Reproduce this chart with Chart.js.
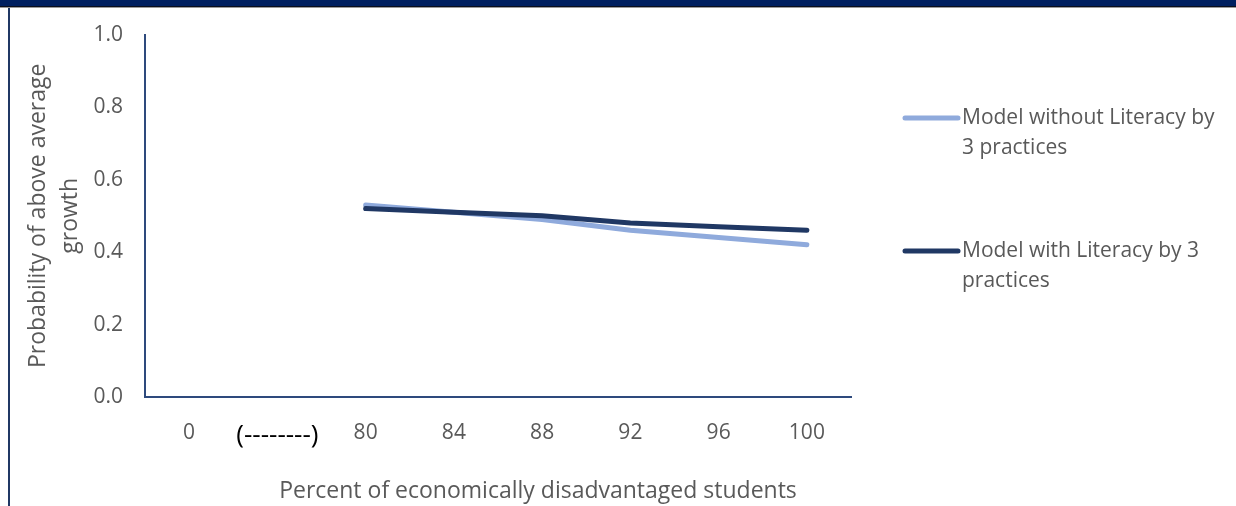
<!DOCTYPE html>
<html>
<head>
<meta charset="utf-8">
<script src="https://cdn.jsdelivr.net/npm/chart.js@4.4.1/dist/chart.umd.min.js"></script>
<style>
  html, body { margin: 0; padding: 0; background: #ffffff; }
  #wrap { position: relative; width: 1236px; height: 506px; }
</style>
</head>
<body>
<div id="wrap"><canvas id="chart" width="1236" height="506"></canvas></div>
<script>
// Categories along the x axis (the break marker sits between 0 and 80)
const categories = ['0', '(--------)', '80', '84', '88', '92', '96', '100'];

// Predicted probability of above average growth
const withoutLiteracy = [null, null, 0.53, 0.51, 0.49, 0.46, 0.44, 0.42];
const withLiteracy    = [null, null, 0.52, 0.51, 0.50, 0.48, 0.47, 0.46];

const seriesLabels = [
  'Model without Literacy by 3 practices',
  'Model with Literacy by 3 practices'
];
const seriesColors = ['#8FAADC', '#203864'];

const yTitleLines = ['Probability of above average', 'growth'];
const xTitle = 'Percent of economically disadvantaged students';

const FONT = '"Open Sans", "Noto Sans", sans-serif';
const GREY = '#595959';
const AXIS = '#2E4A7D';

// Page frame: header band and left rule
const framePlugin = {
  id: 'frame',
  beforeDraw(chart) {
    const ctx = chart.ctx;
    ctx.save();
    ctx.fillStyle = '#ffffff';
    ctx.fillRect(0, 0, chart.width, chart.height);
    ctx.fillStyle = '#002060';
    ctx.fillRect(0, 0, chart.width, 6);
    ctx.fillStyle = '#0a0f1e';
    ctx.fillRect(0, 6, chart.width, 1);
    ctx.fillStyle = '#9a9a9a';
    ctx.fillRect(0, 7, chart.width, 1);
    ctx.fillStyle = '#203864';
    ctx.fillRect(8, 8, 2, chart.height - 8);
    ctx.restore();
  }
};

// Legend on the right with wrapped labels, and the x axis title
const sidePlugin = {
  id: 'side',
  afterDraw(chart) {
    const ctx = chart.ctx;
    ctx.save();
    ctx.font = '21px ' + FONT;
    ctx.fillStyle = GREY;
    ctx.textBaseline = 'middle';
    const tops = [118, 251];
    chart.data.datasets.forEach((ds, i) => {
      const y = tops[i];
      ctx.strokeStyle = ds.borderColor;
      ctx.lineWidth = 5;
      ctx.lineCap = 'round';
      ctx.beginPath();
      ctx.moveTo(905, y);
      ctx.lineTo(958, y);
      ctx.stroke();
      // wrap the label into lines
      const words = ds.label.split(' ');
      const lines = [];
      let cur = '';
      words.forEach(w => {
        const t = cur ? cur + ' ' + w : w;
        if (ctx.measureText(t).width > 260 && cur) { lines.push(cur); cur = w; }
        else cur = t;
      });
      if (cur) lines.push(cur);
      ctx.textAlign = 'left';
      lines.forEach((ln, k) => ctx.fillText(ln, 962, y + k * 30));
    });
    ctx.font = '23px ' + FONT;
    ctx.textAlign = 'center';
    ctx.fillText(xTitle, 538, 491);
    ctx.restore();
  }
};

new Chart(document.getElementById('chart'), {
  type: 'line',
  data: {
    labels: categories,
    datasets: [
      {
        label: seriesLabels[0],
        data: withoutLiteracy,
        borderColor: seriesColors[0],
        backgroundColor: seriesColors[0],
        borderWidth: 5,
        borderCapStyle: 'round',
        pointRadius: 0,
        tension: 0,
        order: 1
      },
      {
        label: seriesLabels[1],
        data: withLiteracy,
        borderColor: seriesColors[1],
        backgroundColor: seriesColors[1],
        borderWidth: 5,
        borderCapStyle: 'round',
        pointRadius: 0,
        tension: 0,
        order: 0
      }
    ]
  },
  options: {
    responsive: false,
    animation: false,
    layout: { padding: { left: 0, top: 33, right: 385, bottom: 0 } },
    plugins: {
      legend: { display: false },
      tooltip: { enabled: false }
    },
    scales: {
      x: {
        type: 'category',
        offset: true,
        grid: { display: false, drawTicks: false },
        border: { display: true, color: AXIS, width: 2 },
        ticks: {
          padding: 23,
          maxRotation: 0,
          autoSkip: false,
          color: c => (categories[c.index] === '(--------)' ? '#000000' : GREY),
          font: c => (categories[c.index] === '(--------)'
            ? { family: FONT, size: 26 }
            : { family: FONT, size: 21 })
        },
        afterFit(scale) { scale.height = 109; }
      },
      y: {
        min: 0,
        max: 1,
        grid: { display: false, drawTicks: false },
        border: { display: true, color: AXIS, width: 2 },
        ticks: {
          stepSize: 0.2,
          padding: 22,
          color: GREY,
          font: { family: FONT, size: 21 },
          callback: v => Number(v).toFixed(1)
        },
        title: {
          display: true,
          text: yTitleLines,
          color: GREY,
          font: { family: FONT, size: 23, lineHeight: 32 / 23 },
          padding: { top: 22, bottom: 0 }
        },
        afterFit(scale) { scale.width = 145; }
      }
    }
  },
  plugins: [framePlugin, sidePlugin]
});
</script>
</body>
</html>
